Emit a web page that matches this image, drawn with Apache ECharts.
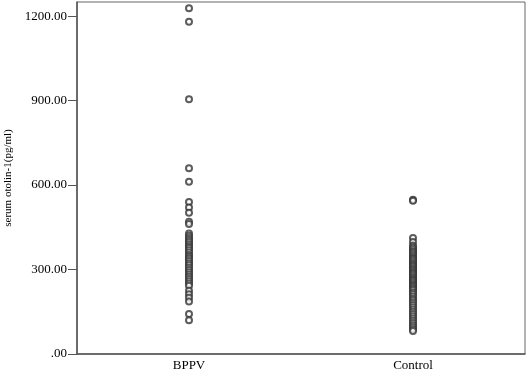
<!DOCTYPE html>
<html>
<head>
<meta charset="utf-8">
<script src="https://cdn.jsdelivr.net/npm/echarts@6/dist/echarts.min.js"></script>
<style>
  html, body { margin: 0; padding: 0; background: #fff; }
  #chart { width: 529px; height: 374px; }
</style>
</head>
<body>
<div id="chart"></div>
<script>
// groups on the x axis
const categories = ['BPPV', 'Control'];
// serum otolin-1 values (pg/ml)
const bppv = [1228, 1180, 905, 660, 612, 540, 520, 502, 470, 462, 428, 420, 412, 405, 398,
  390, 383, 376, 368, 360, 352, 345, 338, 330, 322, 315, 306, 298, 290, 282, 274, 266, 258,
  250, 242, 225, 212, 200, 186, 142, 120];
const control = [548, 544, 412, 398, 384, 378, 372, 365, 360, 354, 348, 342, 337, 332, 326,
  320, 315, 310, 304, 298, 293, 288, 282, 276, 270, 265, 260, 254, 248, 243, 238, 232, 226,
  218, 212, 204, 196, 190, 182, 174, 166, 158, 150, 142, 134, 126, 118, 110, 102, 95, 88, 82];
const yTicks = [0, 300, 600, 900, 1200];

const serif = '"Liberation Serif", "DejaVu Serif", serif';

function fmt(v) {
    // SPSS style: ".00" for zero
    return v === 0 ? '.00' : v.toFixed(2);
}

let chart = echarts.init(document.getElementById('chart'), null, { renderer: 'canvas' });

chart.setOption({
    animation: false,
    grid: {
        left: 77, right: 4, top: 2, bottom: 20,
        containLabel: false,
        outerBoundsMode: 'none',
        show: true, borderColor: '#666', borderWidth: 1
    },
    xAxis: {
        type: 'category',
        data: categories,
        boundaryGap: true,
        axisLine: { lineStyle: { color: '#555', width: 1.5 } },
        axisTick: { show: false },
        axisLabel: { color: '#000', fontFamily: serif, fontSize: 13, margin: 5 }
    },
    yAxis: {
        type: 'value',
        min: 0,
        max: 1250,
        name: 'serum otolin-1(pg/ml)',
        nameLocation: 'middle',
        nameGap: 61,
        nameTextStyle: { color: '#000', fontFamily: serif, fontSize: 11 },
        splitLine: { show: false },
        axisLine: { show: true, lineStyle: { color: '#555', width: 1.5 } },
        axisTick: { show: true, length: 9, customValues: yTicks, lineStyle: { color: '#555' } },
        axisLabel: {
            color: '#000', fontFamily: serif, fontSize: 13, margin: 10,
            customValues: yTicks,
            formatter: fmt
        }
    },
    series: [{
        type: 'scatter',
        symbol: 'emptyCircle',
        symbolSize: 6,
        itemStyle: { color: '#333', borderColor: '#333', borderWidth: 0.8 },
        data: bppv.map(v => [categories[0], v]).concat(control.map(v => [categories[1], v]))
    }]
});
</script>
</body>
</html>
